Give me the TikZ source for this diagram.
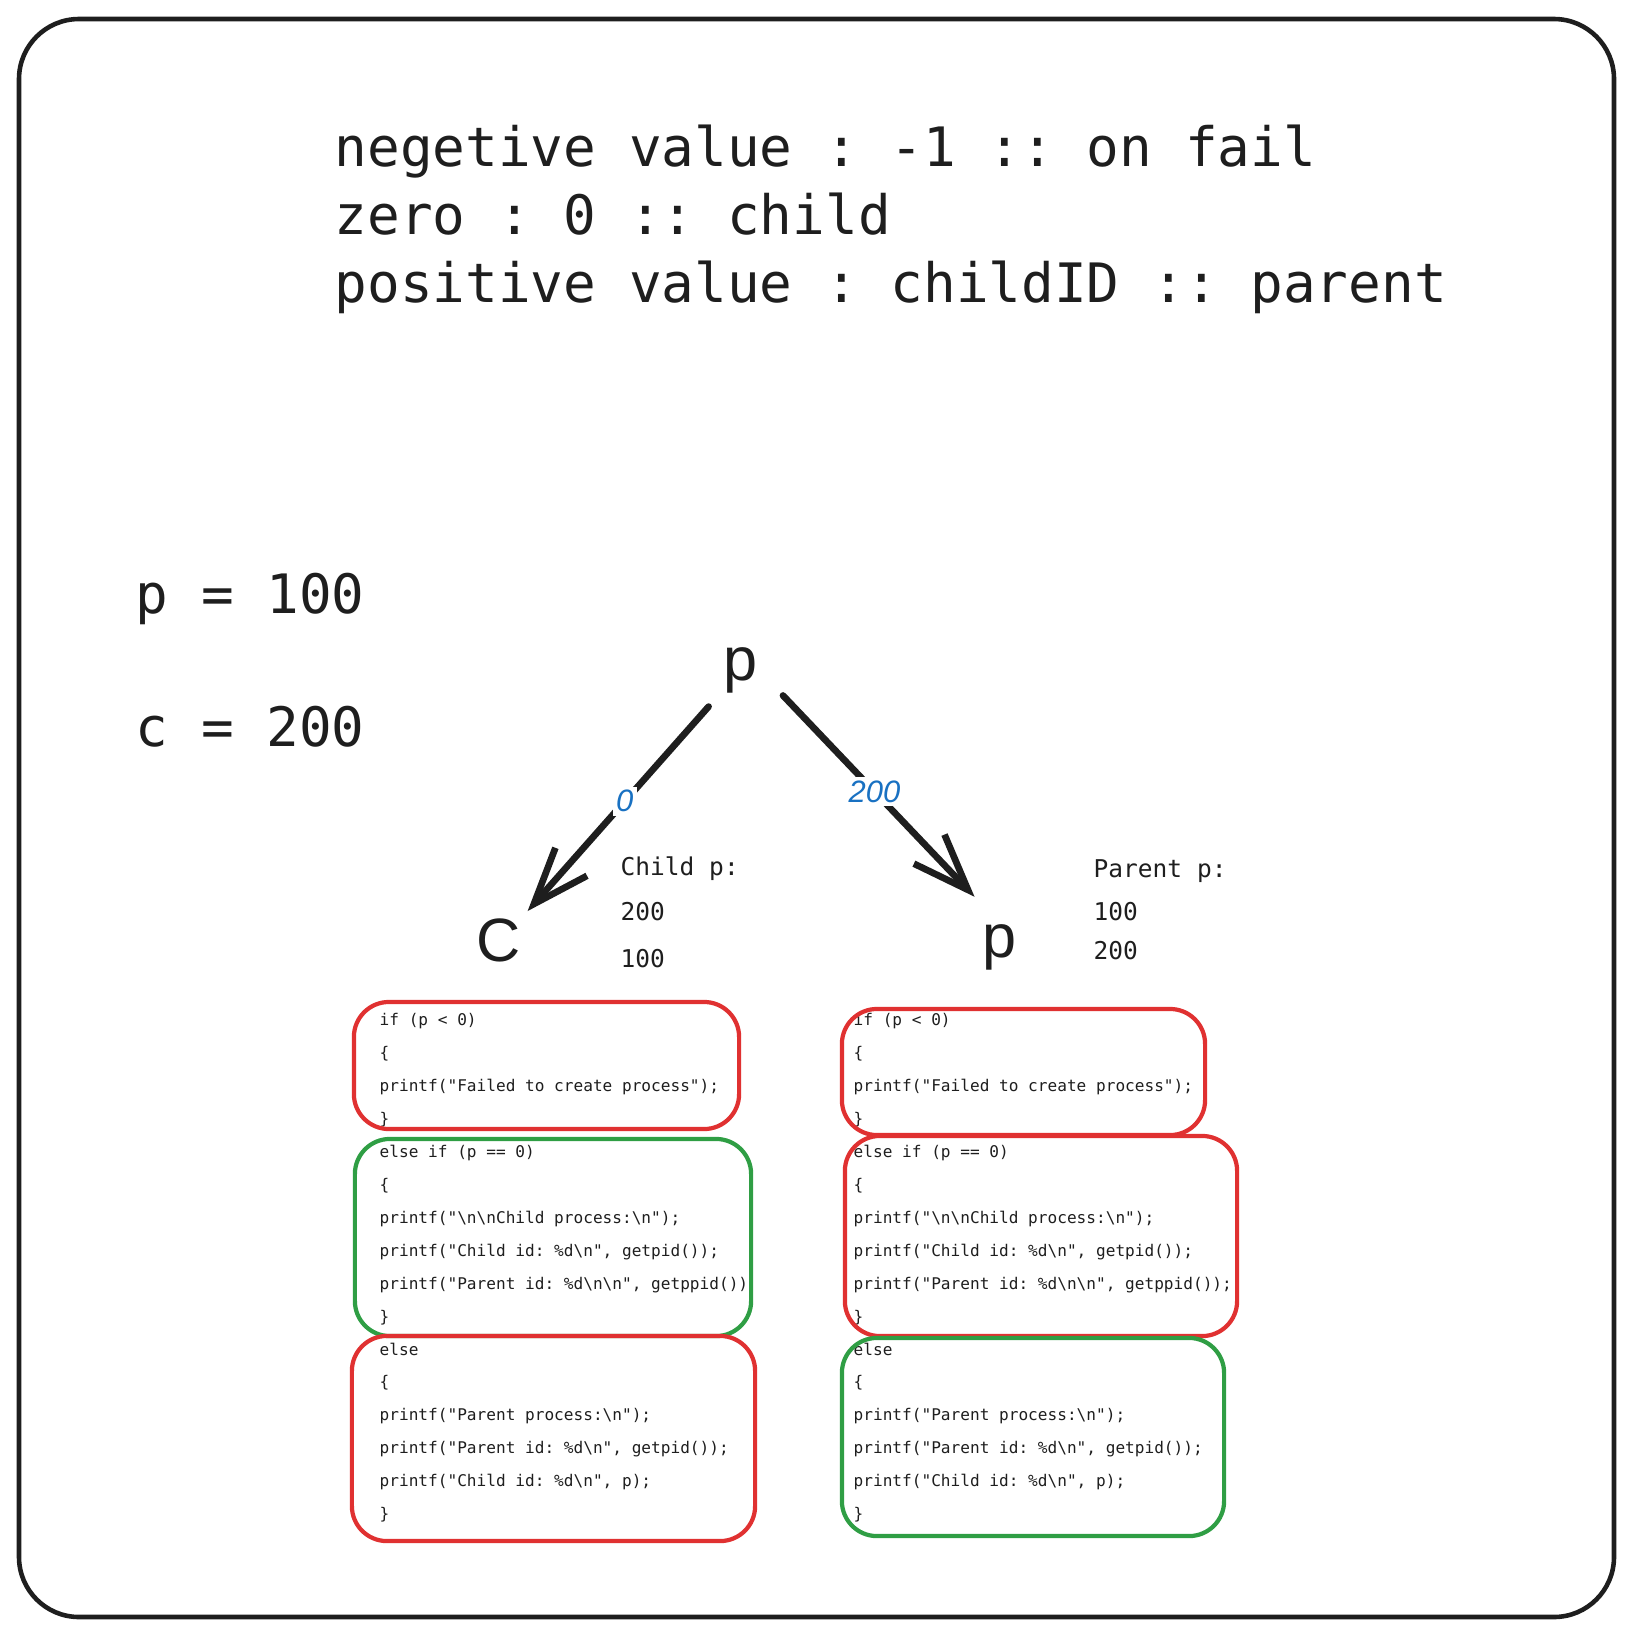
\documentclass[tikz,border=0pt]{standalone}
\usepackage{fontspec}
\setsansfont{Liberation Sans}
\setmonofont{DejaVu Sans Mono}
\usepackage{tikz}
\usetikzlibrary{positioning,arrows.meta,calc}

\definecolor{ink}{HTML}{1E1E1E}
\definecolor{sketchred}{HTML}{E03131}
\definecolor{sketchgreen}{HTML}{2F9E44}
\definecolor{sketchblue}{HTML}{1971C2}

\newcommand{\bsn}{\textbackslash n}

\begin{document}
\begin{tikzpicture}[
    x=0.01cm, y=-0.01cm,
    bigtext/.style={
        anchor=base west, inner sep=0, text=ink,
        font=\ttfamily\fontsize{15.45}{19.6}\selectfont
    },
    note/.style={
        anchor=base west, inner sep=0, text=ink,
        font=\ttfamily\fontsize{6.97}{12}\selectfont
    },
    proc/.style={
        inner sep=0, text=ink, font=\sffamily\fontsize{17.4}{20}\selectfont
    },
    code/.style={
        anchor=north west, inner sep=0, align=left, text=ink,
        font=\ttfamily\fontsize{4.58}{9.36}\selectfont
    },
    block/.style={
        draw, rounded corners=0.35cm, line width=1.2pt
    },
    fork/.style={
        draw=ink, line width=1.9pt, line cap=round,
        -{Straight Barb[length=16pt,width=12pt]}
    },
    retval/.style={
        fill=white, inner sep=1pt, text=sketchblue,
        font=\sffamily\itshape\fontsize{8.8}{10}\selectfont
    }
]
\useasboundingbox (0,0) rectangle (1633,1636);

% Frame
\draw[ink, line width=1.3pt, rounded corners=0.6cm] (19,19) rectangle (1614,1617);

% Return values of fork
\node[bigtext] (rneg) at (334,166) {negetive value : -1 :: on fail};
\node[bigtext] (rzero) at (334,234) {zero : 0 :: child};
\node[bigtext] (rpos) at (334,302) {positive value : childID :: parent};

% Process ids
\node[bigtext] (pid) at (135,613) {p = 100};
\node[bigtext] (cid) at (135,746) {c = 200};

% Processes
\node[proc] (ptop) at (741,670) {p};
\node[proc] (cnode) at (499,940) {C};
\node[proc] (pright) at (1000,947) {p};

\draw[fork, shorten <=13.9pt, shorten >=2.5pt]
    (ptop.center) -- node[retval, pos=0.53] (zero) {0} (cnode.north east);
\draw[fork, shorten <=10pt, shorten >=10.5pt]
    (ptop.east) -- node[retval, pos=0.48] (childid) {200} (pright.north);

% Values of p
\node[note] (childhd) at (620,875) {Child p:};
\node[note] (child1) at (620,920) {200};
\node[note] (child2) at (620,967) {100};
\node[note] (parenthd) at (1093,877) {Parent p:};
\node[note] (parent1) at (1093,920) {100};
\node[note] (parent2) at (1093,959) {200};

% Code run by the child
\node[code] (codeL1) at (379,1013) {if (p < 0)\\ \{\\ printf("Failed to create process");\\ \}};
\node[code] (codeL2) at (379,1144.6) {else if (p == 0)\\ \{\\ printf("\bsn\bsn{}Child process:\bsn");\\ printf("Child id: \%d\bsn", getpid());\\ printf("Parent id: \%d\bsn\bsn", getppid())\\ \}};
\node[code] (codeL3) at (379,1342) {else\\ \{\\ printf("Parent process:\bsn");\\ printf("Parent id: \%d\bsn", getpid());\\ printf("Child id: \%d\bsn", p);\\ \}};

\node[block, draw=sketchred, minimum width=3.85cm, minimum height=1.27cm] (boxL1) at (546.5,1065.5) {};
\node[block, draw=sketchgreen, minimum width=3.96cm, minimum height=1.97cm] (boxL2) at (553,1237.5) {};
\node[block, draw=sketchred, minimum width=4.03cm, minimum height=2.05cm] (boxL3) at (553.5,1438.5) {};

% Code run by the parent
\node[code] (codeR1) at (853,1013) {if (p < 0)\\ \{\\ printf("Failed to create process");\\ \}};
\node[code] (codeR2) at (853,1144.6) {else if (p == 0)\\ \{\\ printf("\bsn\bsn{}Child process:\bsn");\\ printf("Child id: \%d\bsn", getpid());\\ printf("Parent id: \%d\bsn\bsn", getppid());\\ \}};
\node[code] (codeR3) at (853,1342) {else\\ \{\\ printf("Parent process:\bsn");\\ printf("Parent id: \%d\bsn", getpid());\\ printf("Child id: \%d\bsn", p);\\ \}};

\node[block, draw=sketchred, minimum width=3.63cm, minimum height=1.26cm] (boxR1) at (1023.5,1072) {};
\node[block, draw=sketchred, minimum width=3.92cm, minimum height=2.00cm] (boxR2) at (1041,1236) {};
\node[block, draw=sketchgreen, minimum width=3.82cm, minimum height=1.98cm] (boxR3) at (1033,1437) {};

\end{tikzpicture}
\end{document}
